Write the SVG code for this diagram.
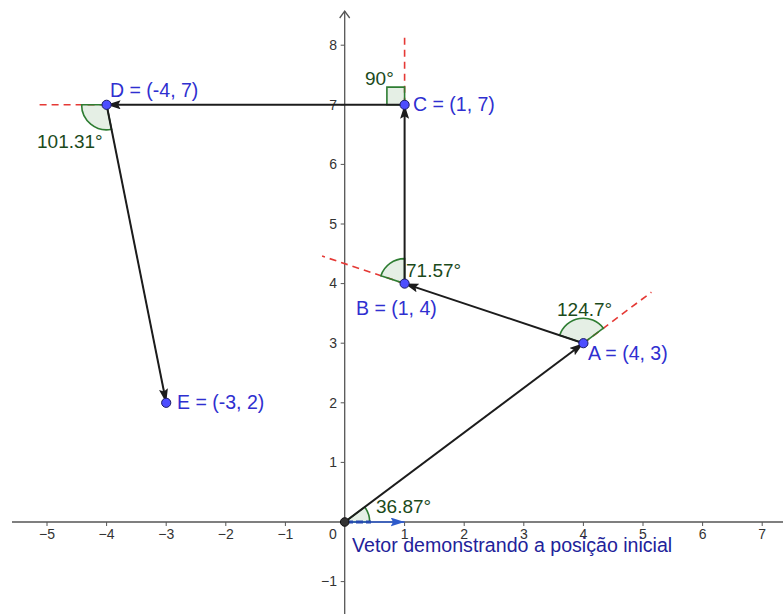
<svg xmlns="http://www.w3.org/2000/svg" width="783" height="614" viewBox="0 0 783 614">
<style>
  text { font-family: "Liberation Sans", Arial, sans-serif; }
  .axis { stroke: #555; stroke-width: 1.3; fill: none; }
  .tick { stroke: #555; stroke-width: 1; }
  .tl { font-size: 14px; fill: #333; }
  .tlx { text-anchor: middle; }
  .tly { text-anchor: end; }
  .vec { stroke: #1c1c1c; stroke-width: 2; fill: none; marker-end: url(#ah); }
  .ext { stroke: #e53935; stroke-width: 1.6; stroke-dasharray: 7 5; fill: none; }
  .ang { stroke: #2e7d32; stroke-width: 1.6; fill: #006400; fill-opacity: 0.1; }
  .angl { font-size: 19px; fill: #1b4a1b; }
  .pt { fill: #4d4dff; stroke: #1a1a66; stroke-width: 1; }
  .pl { font-size: 19.5px; fill: #2f2fd0; }
</style>
<defs>
  <marker id="ah" markerWidth="15" markerHeight="10" refX="14" refY="4.5" orient="auto" markerUnits="userSpaceOnUse">
    <path d="M0,0 L14,4.5 L0,9 L2.5,4.5 z" fill="#1c1c1c"/>
  </marker>
  <marker id="ahb" markerWidth="15" markerHeight="10" refX="14" refY="4.5" orient="auto" markerUnits="userSpaceOnUse">
    <path d="M0,0 L14,4.5 L0,9 L2.5,4.5 z" fill="#2e5bcc"/>
  </marker>
</defs>

<g id="axes">
  <line class="axis" x1="12" y1="522" x2="783" y2="522"/>
  <line class="axis" x1="344.7" y1="614" x2="344.7" y2="11"/>
  <polyline class="axis" points="339.7,18 344.7,11 349.7,18"/>
  <g class="tick">
    <line x1="47" y1="522" x2="47" y2="526"/>
    <line x1="106.6" y1="522" x2="106.6" y2="526"/>
    <line x1="166.2" y1="522" x2="166.2" y2="526"/>
    <line x1="225.8" y1="522" x2="225.8" y2="526"/>
    <line x1="285.4" y1="522" x2="285.4" y2="526"/>
    <line x1="404.6" y1="522" x2="404.6" y2="526"/>
    <line x1="464.2" y1="522" x2="464.2" y2="526"/>
    <line x1="523.8" y1="522" x2="523.8" y2="526"/>
    <line x1="583.4" y1="522" x2="583.4" y2="526"/>
    <line x1="643" y1="522" x2="643" y2="526"/>
    <line x1="702.6" y1="522" x2="702.6" y2="526"/>
    <line x1="762.2" y1="522" x2="762.2" y2="526"/>
    <line x1="340.7" y1="45.2" x2="344.7" y2="45.2"/>
    <line x1="340.7" y1="104.8" x2="344.7" y2="104.8"/>
    <line x1="340.7" y1="164.4" x2="344.7" y2="164.4"/>
    <line x1="340.7" y1="224" x2="344.7" y2="224"/>
    <line x1="340.7" y1="283.6" x2="344.7" y2="283.6"/>
    <line x1="340.7" y1="343.2" x2="344.7" y2="343.2"/>
    <line x1="340.7" y1="402.8" x2="344.7" y2="402.8"/>
    <line x1="340.7" y1="462.4" x2="344.7" y2="462.4"/>
    <line x1="340.7" y1="581.6" x2="344.7" y2="581.6"/>
  </g>
  <g class="tl tlx">
    <text x="47" y="539">−5</text>
    <text x="106.6" y="539">−4</text>
    <text x="166.2" y="539">−3</text>
    <text x="225.8" y="539">−2</text>
    <text x="285.4" y="539">−1</text>
    <text x="333" y="539">0</text>
    <text x="404.6" y="539">1</text>
    <text x="464.2" y="539">2</text>
    <text x="523.8" y="539">3</text>
    <text x="583.4" y="539">4</text>
    <text x="643" y="539">5</text>
    <text x="702.6" y="539">6</text>
    <text x="762.2" y="539">7</text>
  </g>
  <g class="tl tly">
    <text x="337" y="50">8</text>
    <text x="337" y="109.6">7</text>
    <text x="337" y="169.2">6</text>
    <text x="337" y="228.8">5</text>
    <text x="337" y="288.4">4</text>
    <text x="337" y="348">3</text>
    <text x="337" y="407.6">2</text>
    <text x="337" y="467.2">1</text>
    <text x="337" y="586.4">−1</text>
  </g>
</g>

<g id="extensions">
  <line class="ext" x1="583.4" y1="343.2" x2="651.4" y2="292.2"/>
  <line class="ext" x1="404.6" y1="283.6" x2="322.1" y2="256.1"/>
  <line class="ext" x1="404.6" y1="104.8" x2="404.6" y2="34"/>
  <line class="ext" x1="106.6" y1="104.8" x2="37" y2="104.8"/>
</g>

<g id="angles">
  <g id="angle-O">
    <path class="ang" d="M344.7,522 L369.7,522 A25,25 0 0 0 364.7,507 Z"/>
    <text class="angl" x="376" y="513">36.87°</text>
  </g>
  <g id="angle-A">
    <path class="ang" d="M583.4,343.2 L603.4,328.2 A25,25 0 0 0 559.68,335.29 Z"/>
    <text class="angl" x="557" y="316">124.7°</text>
  </g>
  <g id="angle-B">
    <path class="ang" d="M404.6,283.6 L404.6,258.6 A25,25 0 0 0 380.88,275.69 Z"/>
    <text class="angl" x="406" y="277">71.57°</text>
  </g>
  <g id="angle-C">
    <path class="ang" d="M404.6,104.8 L404.6,87.1 L386.9,87.1 L386.9,104.8 Z"/>
    <text class="angl" x="365" y="85">90°</text>
  </g>
  <g id="angle-D">
    <path class="ang" d="M106.6,104.8 L81.6,104.8 A25,25 0 0 0 111.5,129.32 Z"/>
    <text class="angl" x="37" y="148">101.31°</text>
  </g>
</g>

<g id="connectors">
  <line class="vec" x1="344.7" y1="522" x2="583.4" y2="343.2"/>
  <line class="vec" x1="583.4" y1="343.2" x2="404.6" y2="283.6"/>
  <line class="vec" x1="404.6" y1="283.6" x2="404.6" y2="104.8"/>
  <line class="vec" x1="404.6" y1="104.8" x2="106.6" y2="104.8"/>
  <line class="vec" x1="106.6" y1="104.8" x2="166.2" y2="402.8"/>
  <g id="initial-vector">
    <line x1="344.7" y1="522" x2="404.6" y2="522" stroke="#2e5bcc" stroke-width="1.6" marker-end="url(#ahb)"/>
    <line x1="346" y1="522" x2="371" y2="522" stroke="#2548b0" stroke-width="3" stroke-dasharray="7 3"/>
  </g>
</g>

<text id="initial-vector-label" x="352" y="552" font-size="19.6" fill="#22229a">Vetor demonstrando a posição inicial</text>

<g id="O"><circle cx="344.7" cy="522" r="4.3" fill="#333" stroke="#111" stroke-width="1"/></g>
<g id="A"><circle class="pt" cx="583.4" cy="343.2" r="4.6"/><text class="pl" x="588" y="360">A = (4, 3)</text></g>
<g id="B"><circle class="pt" cx="404.6" cy="283.6" r="4.6"/><text class="pl" x="356" y="315">B = (1, 4)</text></g>
<g id="C"><circle class="pt" cx="404.6" cy="104.8" r="4.6"/><text class="pl" x="413" y="111">C = (1, 7)</text></g>
<g id="D"><circle class="pt" cx="106.6" cy="104.8" r="4.6"/><text class="pl" x="110" y="97">D = (-4, 7)</text></g>
<g id="E"><circle class="pt" cx="166.2" cy="402.8" r="4.6"/><text class="pl" x="177" y="409">E = (-3, 2)</text></g>
</svg>
